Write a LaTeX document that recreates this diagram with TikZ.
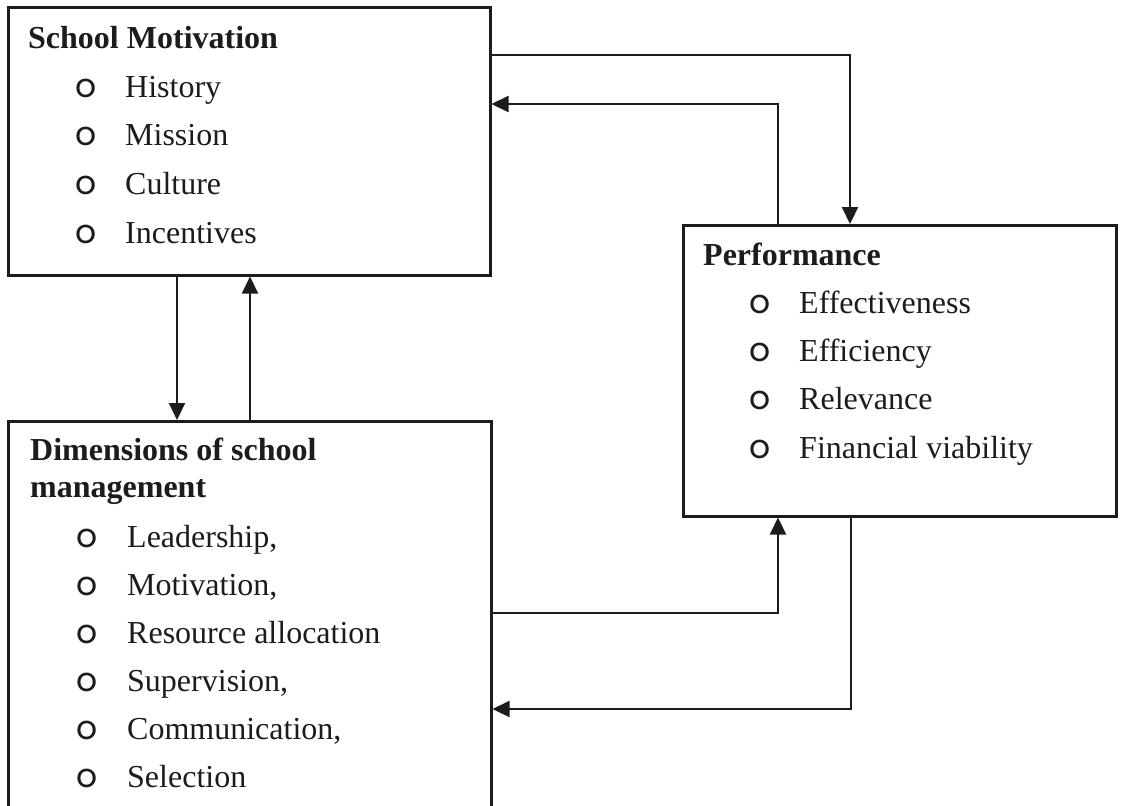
\documentclass[tikz,border=0pt]{standalone}
\usepackage{fontspec}
\setmainfont{Liberation Serif}
\newfontfamily\bulletfont{Poppins}
\usetikzlibrary{arrows.meta,calc}
\definecolor{ink}{RGB}{28,28,28}
\begin{document}
\begin{tikzpicture}[x=1pt,y=-1pt,
  box/.style={draw=ink, line width=2.5pt, rectangle, anchor=north west, inner sep=0pt},
  conn/.style={draw=ink, line width=2.2pt},
  arr/.style={conn, -{Triangle[length=17pt,width=16pt]}},
  head/.style={anchor=base west, inner sep=0pt, text=ink, font=\fontsize{32}{37}\selectfont\bfseries},
  item/.style={anchor=base west, inner sep=0pt, text=ink, font=\fontsize{32}{38}\selectfont},
  bul/.style={anchor=base, inner sep=0pt, text=ink, font=\fontsize{33}{38}\bulletfont}]
\useasboundingbox (0,0) rectangle (1122,806);
\clip (0,0) rectangle (1122,806);
\fill[white] (0,0) rectangle (1122,806);

% boxes
\node[box, minimum width=482pt, minimum height=268pt] (sm) at (7,6) {};
\node[box, minimum width=433pt, minimum height=291pt] (perf) at (682,224) {};
\node[box, minimum width=483pt, minimum height=420pt] (dim) at (7,420) {};

% School Motivation
\node[head] (smt) at (28,48) {School Motivation};
\foreach \t [count=\i] in {History,Mission,Culture,Incentives}{
  \node[bul] (smb\i) at (86,{97+48.7*(\i-1)}) {o};
  \node[item] (smi\i) at (125,{97+48.7*(\i-1)}) {\t};
}

% Performance
\node[head] (pt) at (703,265) {Performance};
\foreach \t [count=\i] in {Effectiveness,Efficiency,Relevance,Financial viability}{
  \node[bul] (pb\i) at (760,{313+48.4*(\i-1)}) {o};
  \node[item] (pi\i) at (799,{313+48.4*(\i-1)}) {\t};
}

% Dimensions of school management
\node[head] (dt1) at (30,460) {Dimensions of school};
\node[head] (dt2) at (30,497) {management};
\foreach \t [count=\i] in {{Leadership,},{Motivation,},{Resource allocation},{Supervision,},{Communication,},{Selection}}{
  \node[bul] (db\i) at (87,{547+48*(\i-1)}) {o};
  \node[item] (di\i) at (127,{547+48*(\i-1)}) {\t};
}

% connectors
\draw[arr] ($(sm.north east)+(0,49)$) -| ($(perf.north west)+(168,0)$);
\draw[arr] ($(perf.north west)+(96,0)$) |- ($(sm.north east)+(0,98)$);
\draw[arr] ($(sm.south west)+(170,0)$) -- ($(dim.north west)+(170,0)$);
\draw[arr] ($(dim.north west)+(243,0)$) -- ($(sm.south west)+(243,0)$);
\draw[arr] ($(dim.north east)+(0,193)$) -| ($(perf.south west)+(96,0)$);
\draw[arr] ($(perf.south west)+(169,0)$) |- ($(dim.north east)+(0,289)$);
\end{tikzpicture}
\end{document}
